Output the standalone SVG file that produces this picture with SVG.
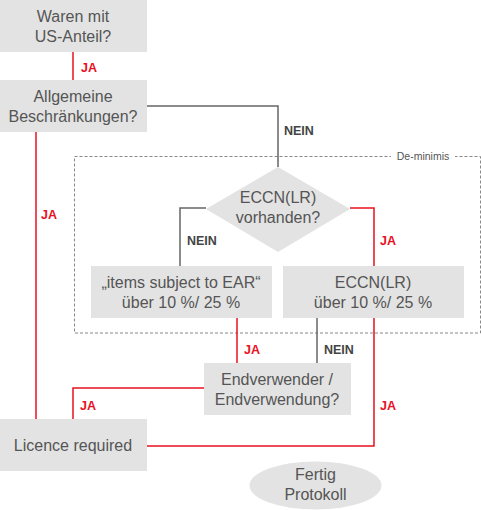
<svg xmlns="http://www.w3.org/2000/svg" width="481" height="510" viewBox="0 0 481 510">
<style>
.box{fill:#e3e3e3}
.t{font-family:"Liberation Sans",Arial,sans-serif;font-size:16px;fill:#555;text-anchor:middle}
.red{stroke:#e8101e;stroke-width:1.5;fill:none}
.gry{stroke:#666;stroke-width:1.5;fill:none}
.ja{font-family:"Liberation Sans",Arial,sans-serif;font-size:12.5px;font-weight:bold;fill:#e8101e}
.nein{font-family:"Liberation Sans",Arial,sans-serif;font-size:12.5px;font-weight:bold;fill:#444}
</style>
<rect width="481" height="510" fill="#fff"/>
<g id="deminimis">
<rect x="74.5" y="156.5" width="406" height="176.5" fill="none" stroke="#888" stroke-width="1" stroke-dasharray="3,2"/>
<rect x="391" y="150" width="64" height="12" fill="#fff"/>
<text x="423" y="160" style="font-family:'Liberation Sans',Arial,sans-serif;font-size:10.5px;fill:#555;text-anchor:middle">De-minimis</text>
</g>
<g id="connectors">
<path class="red" d="M73,52V80"/>
<path class="gry" d="M147,106H278V167"/>
<path class="red" d="M36,132V419"/>
<path class="red" d="M350,208H374V266"/>
<path class="gry" d="M206,208H180V266"/>
<path class="red" d="M237,318V363"/>
<path class="gry" d="M317,318V363"/>
<path class="red" d="M374,318V446H147"/>
<path class="red" d="M204,388H73V419"/>
<text class="ja" x="81" y="72">JA</text>
<text class="nein" x="284" y="135">NEIN</text>
<text class="ja" x="41" y="219">JA</text>
<text class="nein" x="187" y="245">NEIN</text>
<text class="ja" x="380" y="245">JA</text>
<text class="ja" x="244" y="354">JA</text>
<text class="nein" x="324" y="354">NEIN</text>
<text class="ja" x="80" y="410">JA</text>
<text class="ja" x="380" y="410">JA</text>
</g>
<g id="n1"><rect class="box" x="0" y="0" width="147" height="52"/><text class="t" x="73" y="22">Waren mit</text><text class="t" x="73" y="42">US-Anteil?</text></g>
<g id="n2"><rect class="box" x="0" y="80" width="147" height="52"/><text class="t" x="73" y="102">Allgemeine</text><text class="t" x="73" y="122">Beschränkungen?</text></g>
<g id="n3"><polygon class="box" points="278,167 350,209 278,252 206,209"/><text class="t" x="278" y="203">ECCN(LR)</text><text class="t" x="278" y="223">vorhanden?</text></g>
<g id="n4"><rect class="box" x="91" y="266" width="181" height="52"/><text class="t" x="181" y="288">„items subject to EAR“</text><text class="t" x="181" y="308">über 10 %/ 25 %</text></g>
<g id="n5"><rect class="box" x="283" y="266" width="181" height="52"/><text class="t" x="373" y="288">ECCN(LR)</text><text class="t" x="373" y="308">über 10 %/ 25 %</text></g>
<g id="n6"><rect class="box" x="204" y="363" width="147" height="52"/><text class="t" x="277" y="385">Endverwender /</text><text class="t" x="277" y="405">Endverwendung?</text></g>
<g id="n7"><rect class="box" x="0" y="419" width="147" height="52"/><text class="t" x="73" y="451">Licence required</text></g>
<g id="n8"><ellipse class="box" cx="315.5" cy="485.5" rx="66" ry="24"/><text class="t" x="315.5" y="480">Fertig</text><text class="t" x="315.5" y="500">Protokoll</text></g>
</svg>
